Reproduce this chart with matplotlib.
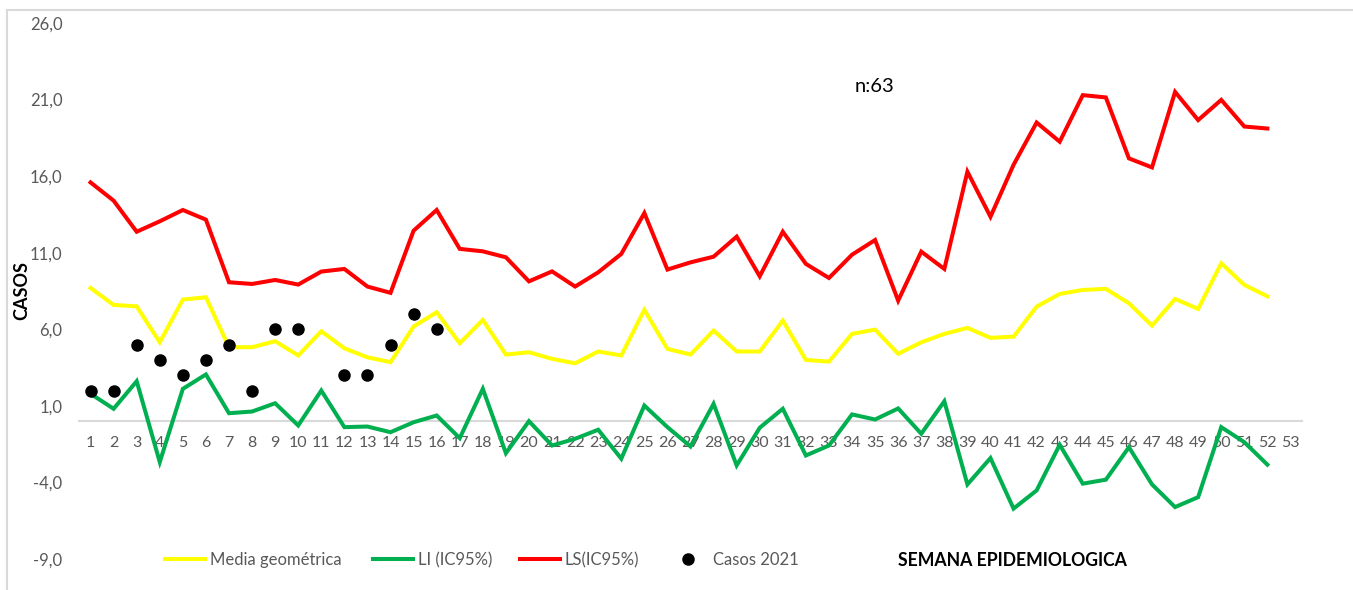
import matplotlib
matplotlib.use("Agg")
import matplotlib.pyplot as plt
from matplotlib.lines import Line2D

plt.rcParams['font.family'] = ['Lato', 'DejaVu Sans']

weeks = list(range(1, 54))
week_labels = [str(w) for w in weeks]

media_geo = [8.7, 7.59, 7.5, 5.15, 7.94, 8.09, 4.83, 4.83, 5.22, 4.29,
             5.87, 4.76, 4.17, 3.85, 6.18, 7.11, 5.09, 6.61, 4.35, 4.5,
             4.07, 3.78, 4.55, 4.29, 7.27, 4.72, 4.35, 5.92, 4.55, 4.55,
             6.57, 4.0, 3.89, 5.7, 5.98, 4.4, 5.15, 5.7, 6.09, 5.44,
             5.52, 7.48, 8.31, 8.57, 8.64, 7.7, 6.24, 7.98, 7.33, 10.31,
             8.9, 8.15]
li_ic95 = [1.79, 0.81, 2.61, -2.67, 2.11, 3.05, 0.52, 0.63, 1.17, -0.28,
           2.0, -0.39, -0.35, -0.72, -0.07, 0.37, -1.11, 2.11, -2.09, 0.0,
           -1.59, -1.15, -0.56, -2.45, 1.02, -0.39, -1.65, 1.13, -2.89, -0.43,
           0.81, -2.24, -1.59, 0.44, 0.11, 0.83, -0.82, 1.3, -4.13, -2.41,
           -5.71, -4.52, -1.54, -4.08, -3.82, -1.7, -4.13, -5.61, -4.96, -0.39,
           -1.37, -2.84]
ls_ic95 = [15.59, 14.4, 12.37, 13.05, 13.79, 13.16, 9.07, 8.96, 9.22, 8.92,
           9.77, 9.94, 8.79, 8.38, 12.44, 13.79, 11.25, 11.09, 10.7, 9.13,
           9.78, 8.79, 9.72, 10.92, 13.59, 9.9, 10.37, 10.74, 12.05, 9.46,
           12.37, 10.27, 9.35, 10.87, 11.83, 7.87, 11.07, 9.94, 16.29, 13.35,
           16.74, 19.5, 18.25, 21.29, 21.14, 17.16, 16.57, 21.5, 19.66, 20.98,
           19.24, 19.11]
casos_weeks = [1, 2, 3, 4, 5, 6, 7, 8, 9, 10, 12, 13, 14, 15, 16]
casos_2021 = [2, 2, 5, 4, 3, 4, 5, 2, 6, 6, 3, 3, 5, 7, 6]
y_ticks = [-9, -4, 1, 6, 11, 16, 21, 26]

W, H = 1353, 590
fig = plt.figure(figsize=(W / 100, H / 100), dpi=100)
ax = fig.add_axes([79 / W, (H - 559) / H, 1223 / W, (559 - 23) / H])

gray_txt = '#595959'
ax.plot(weeks[:len(media_geo)], media_geo, color='#FFFF00', lw=2.9, zorder=3,
        solid_joinstyle='miter', label='Media geométrica')
ax.plot(weeks[:len(li_ic95)], li_ic95, color='#00B050', lw=2.9, zorder=3,
        solid_joinstyle='miter', label='LI (IC95%)')
ax.plot(weeks[:len(ls_ic95)], ls_ic95, color='#FF0000', lw=2.9, zorder=3,
        solid_joinstyle='miter', label='LS(IC95%)')
ax.plot(casos_weeks, casos_2021, linestyle='none', marker='o', color='black',
        markersize=8, zorder=4, label='Casos 2021')

ax.set_xlim(0.5, 53.5)
ax.set_ylim(-9, 26)
ax.set_xticks(weeks)
ax.set_xticklabels(week_labels)
ax.set_yticks(y_ticks)
ax.set_yticklabels([f"{v:.1f}".replace('.', ',') for v in y_ticks])

for s in ['top', 'right', 'left']:
    ax.spines[s].set_visible(False)
ax.spines['bottom'].set_position(('data', 0))
ax.spines['bottom'].set_color('#d9d9d9')
ax.spines['bottom'].set_linewidth(1.5)
ax.spines['bottom'].set_zorder(1)
ax.tick_params(axis='x', length=0, pad=11, labelsize=11.5, labelcolor=gray_txt)
ax.tick_params(axis='y', length=0, pad=12, labelsize=12, labelcolor=gray_txt)

fig.text(22 / W, 1 - 291 / H, 'CASOS', rotation=90, fontsize=13, fontweight='bold',
         ha='center', va='center', color='black')

fig.text(874 / W, 1 - 86 / H, 'n:63', fontsize=14.5, ha='center', va='center', color='black')
fig.text(898 / W, 1 - 560 / H, 'SEMANA EPIDEMIOLOGICA', fontsize=12.7, fontweight='bold',
         ha='left', va='center', color='black')

# legend entries
handles, labels = ax.get_legend_handles_labels()
positions = [165, 373, 520, 668]
for h, l, xp in zip(handles, labels, positions):
    fig.legend([h], [l], loc='center left', bbox_to_anchor=(xp / W, 1 - 560 / H),
               frameon=False, fontsize=12, handlelength=2.4, handletextpad=0.3,
               borderpad=0, borderaxespad=0, labelcolor=gray_txt, markerscale=1.0)

# outer chart border (top and left visible)
fig.add_artist(Line2D([7 / W, 1], [1 - 10 / H, 1 - 10 / H], color='#d9d9d9', lw=1.5,
                      transform=fig.transFigure))
fig.add_artist(Line2D([7 / W, 7 / W], [0, 1 - 10 / H], color='#d9d9d9', lw=1.5,
                      transform=fig.transFigure))

fig.savefig('out.png', dpi=100)
